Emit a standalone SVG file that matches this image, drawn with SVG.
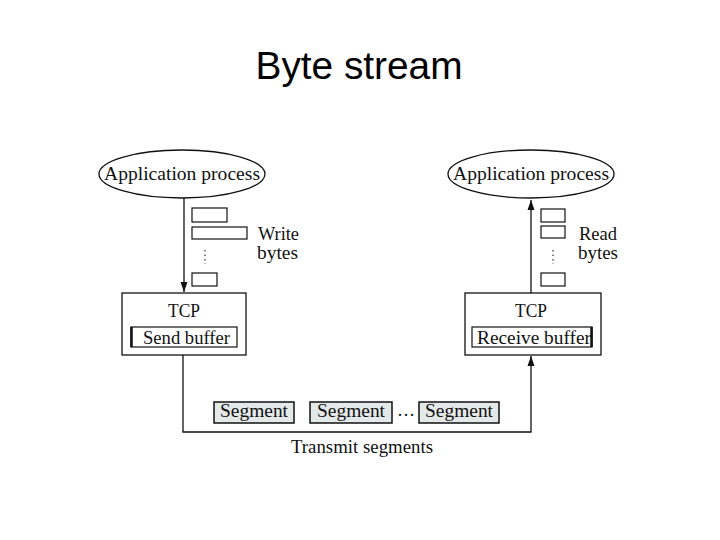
<svg xmlns="http://www.w3.org/2000/svg" width="720" height="540" viewBox="0 0 720 540">
<style>
.t{font-family:"Liberation Serif","Times New Roman",serif;font-size:18px;fill:#111}
.title{font-family:"Liberation Sans",Arial,sans-serif;font-size:38px;fill:#000}
.box{fill:#fff;stroke:#111;stroke-width:1.3}
.sm{fill:#fff;stroke:#111;stroke-width:1.2}
.seg{fill:#e3e8e8;stroke:#111;stroke-width:1.5}
.ln{fill:none;stroke:#111;stroke-width:1.3}
.dot{fill:none;stroke:#333;stroke-width:1.2;stroke-dasharray:1.5 3}
</style>
<defs>
<marker id="ah" viewBox="0 0 10 10" refX="10" refY="5" markerWidth="10" markerHeight="10" markerUnits="userSpaceOnUse" orient="auto">
<path d="M0,1.5 L10,5 L0,8.5 Z" fill="#111"/>
</marker>
</defs>
<rect width="720" height="540" fill="#fff"/>
<text class="title" x="359" y="79" text-anchor="middle" textLength="207" lengthAdjust="spacingAndGlyphs">Byte stream</text>

<g id="connectors">
<line class="ln" x1="184" y1="198" x2="184" y2="292" marker-end="url(#ah)"/>
<line class="ln" x1="531" y1="293" x2="531" y2="200" marker-end="url(#ah)"/>
<polyline class="ln" points="183,355 183,432 531,432 531,356" marker-end="url(#ah)"/>
</g>

<g id="app-left">
<ellipse class="box" cx="182" cy="174" rx="83" ry="24"/>
<text class="t" x="182" y="180" text-anchor="middle" textLength="156" lengthAdjust="spacingAndGlyphs">Application process</text>
</g>
<g id="app-right">
<ellipse class="box" cx="531" cy="174" rx="83" ry="24"/>
<text class="t" x="531" y="180" text-anchor="middle" textLength="156" lengthAdjust="spacingAndGlyphs">Application process</text>
</g>

<g id="write-bytes">
<rect class="sm" x="192" y="208" width="35" height="14"/>
<rect class="sm" x="192" y="227" width="55" height="12"/>
<line class="dot" x1="205" y1="250" x2="205" y2="264"/>
<rect class="sm" x="192" y="273" width="25" height="13"/>
<text class="t" x="258" y="240" textLength="41" lengthAdjust="spacingAndGlyphs">Write</text>
<text class="t" x="257" y="259" textLength="41" lengthAdjust="spacingAndGlyphs">bytes</text>
</g>

<g id="read-bytes">
<rect class="sm" x="541" y="209" width="24" height="13"/>
<rect class="sm" x="541" y="226" width="24" height="12"/>
<line class="dot" x1="553" y1="250" x2="553" y2="264"/>
<rect class="sm" x="541" y="273" width="24" height="13"/>
<text class="t" x="579" y="240" textLength="38" lengthAdjust="spacingAndGlyphs">Read</text>
<text class="t" x="578" y="259" textLength="40" lengthAdjust="spacingAndGlyphs">bytes</text>
</g>

<g id="tcp-send">
<rect class="box" x="122" y="293" width="124" height="62"/>
<text class="t" x="184" y="317" text-anchor="middle" textLength="32" lengthAdjust="spacingAndGlyphs">TCP</text>
<rect class="sm" x="131" y="327" width="106" height="20"/>
<line x1="131.5" y1="327" x2="131.5" y2="347" stroke="#111" stroke-width="2.5"/>
<text class="t" x="143" y="344" textLength="87" lengthAdjust="spacingAndGlyphs">Send buffer</text>
</g>

<g id="tcp-receive">
<rect class="box" x="465" y="293" width="136" height="62"/>
<text class="t" x="531" y="317" text-anchor="middle" textLength="32" lengthAdjust="spacingAndGlyphs">TCP</text>
<rect class="sm" x="472" y="327" width="120" height="20"/>
<line x1="591.5" y1="327" x2="591.5" y2="347" stroke="#111" stroke-width="2.5"/>
<text class="t" x="477" y="344" textLength="114" lengthAdjust="spacingAndGlyphs">Receive buffer</text>
</g>

<g id="segments">
<rect class="seg" x="214" y="402" width="80" height="21"/>
<text class="t" x="220" y="417" textLength="68" lengthAdjust="spacingAndGlyphs">Segment</text>
<rect class="seg" x="310" y="402" width="82" height="21"/>
<text class="t" x="317" y="417" textLength="68" lengthAdjust="spacingAndGlyphs">Segment</text>
<text class="t" x="397" y="416" textLength="18" lengthAdjust="spacingAndGlyphs">…</text>
<rect class="seg" x="419" y="402" width="80" height="21"/>
<text class="t" x="425" y="417" textLength="68" lengthAdjust="spacingAndGlyphs">Segment</text>
</g>

<text class="t" x="362" y="453" text-anchor="middle" textLength="142" lengthAdjust="spacingAndGlyphs">Transmit segments</text>
</svg>
